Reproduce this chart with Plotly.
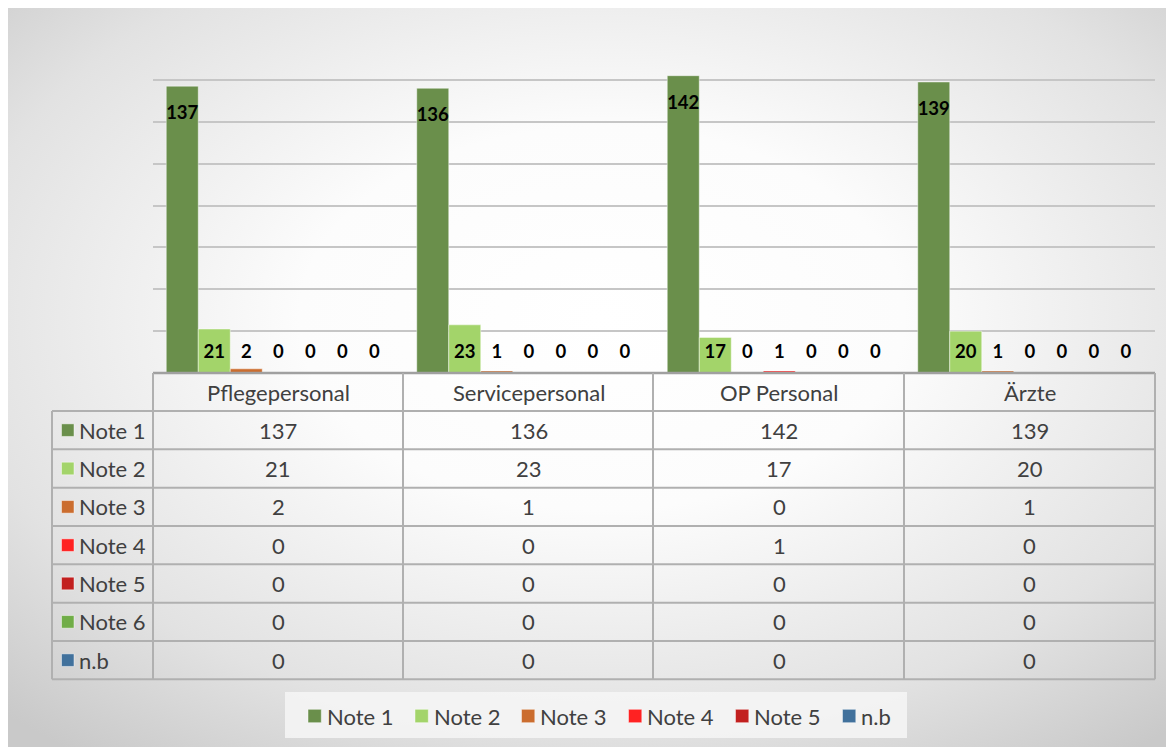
import base64
import plotly.graph_objects as go

categories = ["Pflegepersonal", "Servicepersonal", "OP Personal", "Ärzte"]
series_names = ["Note 1", "Note 2", "Note 3", "Note 4", "Note 5", "Note 6", "n.b"]
note1 = [137, 136, 142, 139]
note2 = [21, 23, 17, 20]
note3 = [2, 1, 0, 1]
note4 = [0, 0, 1, 0]
note5 = [0, 0, 0, 0]
note6 = [0, 0, 0, 0]
nb = [0, 0, 0, 0]
series_values = [note1, note2, note3, note4, note5, note6, nb]
colors = ["#6a8f4b", "#a3d46a", "#cb6d2f", "#ff2222", "#c2201f", "#70ad47", "#41719c"]
in_legend = [True, True, True, True, True, False, True]

OFF = 8  # browser body margin
W, H = 1174 - OFF, 747 - OFF
L, R, T, B = 153, 1155, 38, 373  # plot area in page pixels


def px(x):
    return (x - L) / (R - L)


def py(y):
    return (B - y) / (B - T)


FONT = "Lato"
TXT = "#404040"
FS = 22

fig = go.Figure()
n = len(series_names)
bw = 32 / ((R - L) / 4)
for j, (name, vals, col) in enumerate(zip(series_names, series_values, colors)):
    xs = [i + (j - (n - 1) / 2) * bw for i in range(len(categories))]
    fig.add_trace(go.Bar(
        x=xs, y=vals, width=bw, name=name,
        marker=dict(color=col, line=dict(color="rgba(255,255,255,0.45)", width=1)),
        showlegend=False, hoverinfo="skip"))
    fig.add_trace(go.Scatter(
        x=xs, y=[max(v - 13.6, 9.3) for v in vals], mode="text", text=[str(v) for v in vals],
        textfont=dict(family=FONT, size=18.5, color="#000000", weight="bold"), showlegend=False, hoverinfo="skip"))

# background radial gradient
svg = ('<svg xmlns="http://www.w3.org/2000/svg" width="1168" height="739" viewBox="0 0 1168 739" preserveAspectRatio="none">'
       '<defs><radialGradient id="g" cx="51%" cy="42%" r="74%">'
       '<stop offset="0" stop-color="#ffffff"/><stop offset="0.35" stop-color="#fcfcfc"/>'
       '<stop offset="0.75" stop-color="#e2e2e2"/>'
       '<stop offset="1" stop-color="#c9c9c9"/></radialGradient></defs>'
       '<rect width="1168" height="739" fill="url(#g)"/></svg>')
uri = "data:image/svg+xml;base64," + base64.b64encode(svg.encode()).decode()
fig.add_layout_image(dict(source=uri, xref="paper", yref="paper", x=px(6), y=py(8),
                          sizex=px(1174) - px(6), sizey=py(8) - py(747), sizing="stretch",
                          xanchor="left", yanchor="top", layer="below"))

shapes = []
ann = []
# legend background box
shapes.append(dict(type="rect", xref="paper", yref="paper", x0=px(285), x1=px(907), y0=py(692), y1=py(738),
                   fillcolor="rgba(246,246,246,0.85)", line=dict(width=0), layer="below"))

# data table
LINE = "#b0b0b0"
col_x = [153, 403, 653, 904, 1155]
row_y = [373, 411, 449.3, 487.7, 526, 564.3, 602.7, 641, 679.3]
for k, y in enumerate(row_y):
    x0 = 153 if k == 0 else 52
    shapes.append(dict(type="line", xref="paper", yref="paper", x0=px(x0), x1=px(1155), y0=py(y), y1=py(y),
                       line=dict(color="#a0a0a0" if k == 0 else LINE, width=2.5 if k == 0 else 2)))
for x in col_x:
    shapes.append(dict(type="line", xref="paper", yref="paper", x0=px(x), x1=px(x), y0=py(373), y1=py(679.3),
                       line=dict(color=LINE, width=2)))
shapes.append(dict(type="line", xref="paper", yref="paper", x0=px(52), x1=px(52), y0=py(411), y1=py(679.3),
                   line=dict(color=LINE, width=2)))

for i, c in enumerate(categories):
    ann.append(dict(x=i, xref="x", y=py((row_y[0] + row_y[1]) / 2), yref="paper", text=c, showarrow=False,
                    xanchor="center", yanchor="middle", font=dict(family=FONT, size=FS, color=TXT)))
for j, (name, vals, col) in enumerate(zip(series_names, series_values, colors)):
    yc = (row_y[j + 1] + row_y[j + 2]) / 2
    shapes.append(dict(type="rect", xref="paper", yref="paper", x0=px(61.5), x1=px(74), y0=py(yc - 6.3), y1=py(yc + 6.3),
                       fillcolor=col, line=dict(color="rgba(255,255,255,0.45)", width=1)))
    ann.append(dict(x=px(77), xref="paper", y=py(yc), yref="paper", text=name, showarrow=False, xanchor="left",
                    yanchor="middle", font=dict(family=FONT, size=FS, color=TXT)))
    for i, v in enumerate(vals):
        ann.append(dict(x=i, xref="x", y=py(yc), yref="paper", text=str(v), showarrow=False,
                        xanchor="center", yanchor="middle", font=dict(family=FONT, size=FS, color=TXT)))

# legend (drawn like the spreadsheet legend)
leg_sq = [308, 415, 521.5, 628.5, 735.5, 842.5]
leg_items = [(nm, c) for nm, c, s in zip(series_names, colors, in_legend) if s]
for (nm, c), xs in zip(leg_items, leg_sq):
    shapes.append(dict(type="rect", xref="paper", yref="paper", x0=px(xs), x1=px(xs + 13.3), y0=py(709.3),
                       y1=py(722.7), fillcolor=c, line=dict(color="rgba(255,255,255,0.45)", width=1)))
    ann.append(dict(x=px(xs + 16.5), xref="paper", y=py(716), yref="paper", text=nm, showarrow=False,
                    xanchor="left", yanchor="middle", font=dict(family=FONT, size=FS, color=TXT)))

fig.update_layout(
    width=W, height=H, margin=dict(l=L - OFF, r=W - (R - OFF), t=T - OFF, b=H - (B - OFF), autoexpand=False),
    paper_bgcolor="#ffffff", plot_bgcolor="rgba(0,0,0,0)",
    barmode="overlay", showlegend=False,
    xaxis=dict(range=[-0.5, 3.5], showgrid=False, zeroline=False, showticklabels=False, fixedrange=True),
    yaxis=dict(range=[0, 160], dtick=20, showgrid=True, gridcolor="#c6c6c6", gridwidth=1.5,
               zeroline=False, showticklabels=False, fixedrange=True),
    shapes=shapes, annotations=ann,
)

fig.write_html("out.html")
